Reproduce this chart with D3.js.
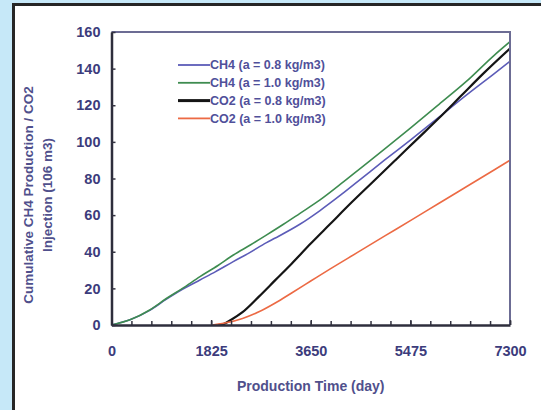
<!DOCTYPE html>
<html>
<head>
    <meta charset="utf-8">
    <title>Cumulative CH4 production / CO2 injection</title>
    <script type="text/javascript" src="https://cdn.jsdelivr.net/npm/d3@7"></script>
    <style type="text/css">
        body { margin: 0; background: #c6e8f8; }
        svg { display: block; }
        .tick text { font-family: "Liberation Sans", Arial, sans-serif; font-weight: bold; fill: #3c3c7c; }
    </style>
</head>
<body>
<script type="text/javascript">

    // values: [day, 10^6 m3]
    var ch4_08 = [[0,0],[350,3],[700,8],[1000,14],[1300,19.5],[1620,24.6],[1900,29],[2230,34.6],[2500,39],[2840,45],
        [3000,47.5],[3450,55],[3820,62.5],[4200,71],[4600,80.5],[5000,90],[5475,101],[6000,113.5],[6500,125.5],[7000,137],[7300,144]];
    var ch4_10 = [[0,0],[350,3],[700,8.2],[1011,14.6],[1300,20],[1621,26.4],[1950,32.5],[2232,38.2],[2550,43.8],[2843,49.2],
        [3150,55],[3453,61],[3820,68.3],[4200,77],[4600,86.5],[5000,96],[5475,107.5],[6000,120.5],[6500,133],[7000,147],[7300,154.7]];
    var co2_08 = [[1950,0],[2050,0.5],[2200,3],[2400,7],[2700,15.5],[3000,24.5],[3300,33.5],[3650,44.5],[4000,55],[4400,67],
        [4800,78.5],[5200,90],[5600,101.5],[6000,113],[6400,125],[6800,137],[7300,151]];
    var co2_10 = [[1850,0],[2100,1.2],[2400,3.6],[2700,7.2],[3000,12],[3300,17.5],[3650,24],[4000,30.5],[4500,39.5],
        [5000,48.5],[5475,57],[6000,66.5],[6500,75.5],[7000,84.5],[7300,90]];

    var seriesNames = ["CH4 (a = 0.8 kg/m3)", "CH4 (a = 1.0 kg/m3)", "CO2 (a = 0.8 kg/m3)", "CO2 (a = 1.0 kg/m3)"];
    var seriesColors = ["#5c5cb8", "#3e8c50", "#151515", "#ec6a44"];
    var seriesWidths = [1.6, 1.6, 2.2, 1.6];

    var xTicks = [0, 1825, 3650, 5475, 7300];
    var yTicks = [0, 20, 40, 60, 80, 100, 120, 140, 160];
    var minorX = d3.range(0, 7300 + 1, 365);

    var width = 541, height = 410;
    var plotLeft = 111.5, plotRight = 510, plotTop = 32, plotBottom = 325;

    var svg = d3.select("body").append("svg")
        .attr("width", width)
        .attr("height", height);

    // white panel with dark border
    svg.append("rect")
        .attr("x", 13.5).attr("y", 4.5)
        .attr("width", 560).attr("height", 440)
        .attr("fill", "#ffffff")
        .attr("stroke", "#262626")
        .attr("stroke-width", 3);

    var x = d3.scaleLinear().domain([0, 7300]).range([plotLeft, plotRight]);
    var y = d3.scaleLinear().domain([0, 160]).range([plotBottom, plotTop]);

    var data = [ch4_08, ch4_10, co2_08, co2_10];

    var line = d3.line()
        .x(function(d) { return x(d[0]); })
        .y(function(d) { return y(d[1]); })
        .curve(d3.curveMonotoneX);

    svg.selectAll(".series")
        .data(data)
        .enter().append("path")
        .attr("class", "series")
        .attr("fill", "none")
        .attr("stroke", function(d, i) { return seriesColors[i]; })
        .attr("stroke-width", function(d, i) { return seriesWidths[i]; })
        .attr("d", line);

    // frame top and right
    svg.append("path")
        .attr("d", "M" + plotLeft + "," + plotTop + "H" + plotRight + "V" + plotBottom)
        .attr("fill", "none")
        .attr("stroke", "#6c6c94")
        .attr("stroke-width", 2);

    // minor ticks on x axis (every year), pointing inside
    svg.append("g")
        .attr("transform", "translate(0," + plotBottom + ")")
        .call(d3.axisBottom(x).tickValues(minorX).tickSize(-4).tickFormat(""))
        .call(function(g) { g.select(".domain").remove(); })
        .selectAll("line").attr("stroke", "#333340").attr("stroke-width", 1.5);

    var xAxis = svg.append("g")
        .attr("transform", "translate(0," + plotBottom + ")")
        .call(d3.axisBottom(x).tickValues(xTicks).tickFormat(d3.format("d"))
            .tickSizeInner(-5).tickSizeOuter(0).tickPadding(21));
    xAxis.select(".domain").attr("stroke", "#2e2e3c").attr("stroke-width", 2.5);
    xAxis.selectAll("line").attr("stroke", "#333340").attr("stroke-width", 1.5);
    xAxis.selectAll("text").style("font-size", "14.5px");

    var yAxis = svg.append("g")
        .attr("transform", "translate(" + plotLeft + ",0)")
        .call(d3.axisLeft(y).tickValues(yTicks).tickFormat(d3.format("d"))
            .tickSizeInner(-4).tickSizeOuter(0).tickPadding(11));
    yAxis.select(".domain").attr("stroke", "#2e2e3c").attr("stroke-width", 2.5);
    yAxis.selectAll("line").attr("stroke", "#333340").attr("stroke-width", 1.5);
    yAxis.selectAll("text").style("font-size", "14.5px");

    // axis titles
    svg.append("text")
        .attr("x", (plotLeft + plotRight) / 2)
        .attr("y", 391)
        .attr("text-anchor", "middle")
        .style("font-family", "Liberation Sans, Arial, sans-serif")
        .style("font-weight", "bold")
        .style("font-size", "14px")
        .style("fill", "#50508c")
        .text("Production Time (day)");

    var yTitle = svg.append("text")
        .attr("transform", "translate(33,195)rotate(-90)")
        .attr("text-anchor", "middle")
        .style("font-family", "Liberation Sans, Arial, sans-serif")
        .style("font-weight", "bold")
        .style("font-size", "13.5px")
        .style("fill", "#50508c");
    yTitle.append("tspan").attr("x", 0).attr("dy", 0).text("Cumulative CH4 Production / CO2");
    yTitle.append("tspan").attr("x", 0).attr("dy", 19).text("Injection (106 m3)");

    // legend
    var legend = svg.selectAll(".legend")
        .data(seriesNames)
        .enter().append("g")
        .attr("class", "legend")
        .attr("transform", function(d, i) { return "translate(178," + (65 + i * 17.8) + ")"; });

    legend.append("line")
        .attr("x1", 0).attr("x2", 32)
        .attr("stroke", function(d, i) { return seriesColors[i]; })
        .attr("stroke-width", function(d, i) { return i == 2 ? 3 : 1.8; });

    legend.append("text")
        .attr("x", 32)
        .attr("dy", "0.35em")
        .style("font-family", "Liberation Sans, Arial, sans-serif")
        .style("font-weight", "bold")
        .style("font-size", "12.5px")
        .style("fill", "#50509a")
        .text(function(d) { return d; });

</script>
</body>
</html>
